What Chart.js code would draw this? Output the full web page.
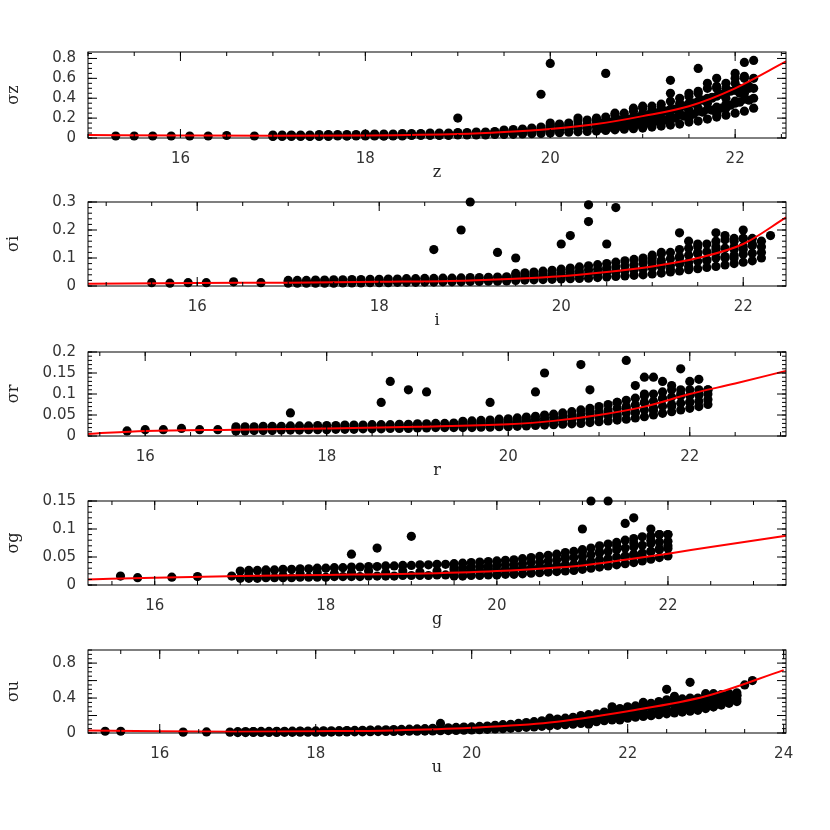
<!DOCTYPE html>
<html><head><meta charset="utf-8">
<script src="https://cdn.jsdelivr.net/npm/chart.js@4"></script>
<style>body{margin:0;background:#fff;width:830px;height:830px;position:relative;overflow:hidden}
.p{position:absolute;left:0;width:830px}</style></head>
<body>
<script>
// ---- data: individual / outlying points ----
const zX=[15.3,15.5,15.7,15.9,16.1,16.3,16.5,16.8,17.0,17.2,17.4,17.6,17.8,18.0,18.1,18.2,18.3,18.4,18.5,18.6,18.7,18.8,18.9,19.0,19.1,19.2,19.3,19.4,19.5,19.6,19.7,19.8,19.9,20.0,20.1,20.2,20.3,20.4,20.5,20.6,20.7,20.8,20.9,21.0,21.1,21.2,21.3,21.4,21.5,21.6,21.7,21.8,21.9,22.0,22.1,22.15,20.0,20.3,20.5,20.7,20.9,21.0,21.1,21.2,21.3,21.4,21.5,21.6,21.7,21.8,21.9,22.0,22.1,21.0,21.5,21.8,22.0,19.5,20.0,20.6,19.9,20.0,21.6,22.2,22.1,21.3,19.0,21.9,22.05,21.75];
const zY=[0.02,0.02,0.02,0.02,0.02,0.02,0.025,0.02,0.02,0.025,0.02,0.03,0.02,0.03,0.03,0.02,0.025,0.03,0.03,0.04,0.035,0.03,0.04,0.05,0.045,0.04,0.05,0.06,0.05,0.05,0.06,0.08,0.07,0.07,0.09,0.12,0.1,0.1,0.12,0.16,0.13,0.14,0.16,0.25,0.18,0.3,0.22,0.35,0.28,0.45,0.35,0.5,0.4,0.55,0.6,0.5,0.12,0.2,0.18,0.25,0.3,0.12,0.28,0.2,0.45,0.25,0.2,0.3,0.55,0.25,0.5,0.35,0.45,0.32,0.42,0.6,0.65,0.07,0.15,0.65,0.44,0.75,0.7,0.78,0.76,0.58,0.2,0.3,0.45,0.4];
const zCurveX=[15,16,17,18,19,19.5,20,20.5,21,21.5,22,22.55];
const zCurveY=[0.03,0.025,0.022,0.025,0.04,0.06,0.09,0.14,0.22,0.32,0.5,0.77];

const iX=[15.5,15.7,15.9,16.1,16.4,16.7,17.0,17.2,17.5,17.8,18.0,18.2,18.4,18.6,18.8,19.0,19.2,19.4,19.6,19.8,20.0,20.2,20.4,20.6,20.8,21.0,21.1,21.2,21.3,21.4,21.5,21.6,21.7,21.8,21.9,22.0,22.1,20.5,20.9,21.1,21.3,21.5,21.7,21.9,22.0,21.0,21.4,21.8,19.0,18.9,20.3,20.3,20.6,20.1,20.0,18.6,19.3,21.3,22.0,22.3,20.5,19.5,21.7,21.9];
const iY=[0.012,0.01,0.012,0.012,0.015,0.012,0.015,0.013,0.015,0.015,0.018,0.016,0.02,0.02,0.025,0.022,0.025,0.03,0.028,0.035,0.035,0.04,0.045,0.05,0.06,0.07,0.08,0.06,0.1,0.07,0.12,0.09,0.14,0.1,0.16,0.13,0.15,0.06,0.09,0.12,0.08,0.15,0.12,0.1,0.17,0.1,0.16,0.18,0.3,0.2,0.29,0.23,0.28,0.18,0.15,0.13,0.12,0.19,0.2,0.18,0.15,0.1,0.19,0.13];
const iCurveX=[14.8,16,17,18,19,20,20.5,21,21.5,22,22.47];
const iCurveY=[0.008,0.011,0.012,0.015,0.02,0.035,0.05,0.07,0.1,0.15,0.245];

const rX=[15.8,16.0,16.2,16.4,16.6,16.8,17.0,17.2,17.4,17.6,17.8,18.0,18.2,18.4,18.6,18.8,19.0,19.2,19.4,19.6,19.8,20.0,20.2,20.4,20.6,20.8,21.0,21.1,21.2,21.3,21.4,21.5,21.6,21.7,21.8,21.9,22.0,22.1,22.2,20.9,21.2,21.5,21.8,22.0,21.4,21.7,18.7,18.9,19.1,17.6,20.4,20.8,21.3,20.3,21.5,21.9,20.9,19.8,18.6,22.1,21.6];
const rY=[0.012,0.015,0.015,0.018,0.015,0.015,0.018,0.017,0.02,0.018,0.02,0.02,0.022,0.022,0.025,0.022,0.025,0.025,0.028,0.025,0.03,0.03,0.035,0.035,0.04,0.045,0.05,0.055,0.045,0.065,0.055,0.08,0.06,0.09,0.07,0.1,0.08,0.1,0.11,0.06,0.08,0.1,0.12,0.13,0.12,0.13,0.13,0.11,0.105,0.055,0.15,0.17,0.18,0.105,0.14,0.16,0.11,0.08,0.08,0.135,0.14];
const rCurveX=[15.37,16,17,18,19,20,20.5,21,21.5,22,22.5,23.06];
const rCurveY=[0.005,0.012,0.015,0.018,0.022,0.028,0.036,0.05,0.07,0.1,0.125,0.155];

const gX=[15.6,15.8,16.2,16.5,16.9,17.1,17.3,17.5,17.7,17.9,18.1,18.3,18.5,18.7,18.9,19.1,19.3,19.5,19.7,19.9,20.1,20.3,20.5,20.7,20.9,21.1,21.3,21.5,21.6,21.7,21.8,21.9,22.0,21.2,21.4,21.6,21.8,22.0,20.8,21.0,21.1,21.3,21.6,19.0,21.0,18.6,18.3,21.5,21.9,21.8];
const gY=[0.016,0.013,0.014,0.015,0.016,0.018,0.02,0.017,0.02,0.022,0.02,0.022,0.025,0.022,0.025,0.023,0.025,0.028,0.025,0.03,0.028,0.03,0.032,0.035,0.035,0.04,0.045,0.05,0.055,0.05,0.06,0.065,0.07,0.06,0.07,0.075,0.08,0.09,0.05,0.06,0.15,0.15,0.12,0.087,0.1,0.066,0.055,0.11,0.09,0.1];
const gCurveX=[15.22,16,17,18,19,20,21,21.5,22,22.5,23.38];
const gCurveY=[0.01,0.013,0.016,0.018,0.02,0.025,0.035,0.045,0.056,0.068,0.088];

const uX=[15.3,15.5,16.3,16.6,16.9,17.2,17.5,17.8,18.1,18.4,18.7,19.0,19.3,19.6,19.9,20.2,20.5,20.8,21.0,21.2,21.4,21.6,21.8,22.0,22.2,22.4,22.6,22.8,23.0,23.2,21.5,21.9,22.3,22.7,23.1,21.8,22.2,22.6,23.0,22.8,22.5,23.6,23.5,23.1,19.6,21.0,23.4,22.9];
const uY=[0.02,0.02,0.01,0.012,0.01,0.015,0.015,0.02,0.02,0.025,0.03,0.03,0.04,0.05,0.06,0.07,0.09,0.11,0.13,0.15,0.17,0.2,0.22,0.25,0.28,0.3,0.33,0.36,0.38,0.4,0.1,0.15,0.2,0.25,0.3,0.3,0.35,0.42,0.45,0.58,0.5,0.6,0.55,0.45,0.11,0.17,0.43,0.3];
const uCurveX=[15.08,16,17,18,19,20,21,22,23,24];
const uCurveY=[0.03,0.02,0.015,0.02,0.03,0.06,0.12,0.25,0.42,0.72];

// ---- data: dense band rows (magnitudes, then sigma rows bottom to top) ----
const bandX1=[17.0,17.1,17.2,17.3,17.4,17.5,17.6,17.7,17.8,17.9,18.0,18.1,18.2,18.3,18.4,18.5,18.6,18.7,18.8,18.9,19.0,19.1,19.2,19.3,19.4];
const bandX2=[19.5,19.6,19.7,19.8,19.9,20.0,20.1,20.2,20.3,20.4,20.5,20.6,20.7,20.8,20.9,21.0,21.1,21.2,21.3,21.4,21.5,21.6,21.7,21.8,21.9,22.0,22.1,22.2];
const gBandX2=[19.5,19.6,19.7,19.8,19.9,20.0,20.1,20.2,20.3,20.4,20.5,20.6,20.7,20.8,20.9,21.0,21.1,21.2,21.3,21.4,21.5,21.6,21.7,21.8,21.9,22.0];
const uBandX1=[17.0,17.1,17.2,17.3,17.4,17.5,17.6,17.7,17.8,17.9,18.0,18.1,18.2,18.3,18.4,18.5,18.6,18.7,18.8,18.9,19.0,19.1,19.2,19.3,19.4,19.5,19.6,19.7,19.8,19.9];
const uBandX2=[20.0,20.1,20.2,20.3,20.4,20.5,20.6,20.7,20.8,20.9,21.0,21.1,21.2,21.3,21.4,21.5,21.6,21.7,21.8,21.9,22.0,22.1,22.2,22.3,22.4,22.5,22.6,22.7,22.8,22.9,23.0,23.1,23.2,23.3,23.4];
// extra band fill between rows, at half steps
const zFillX=[20.55,20.65,20.75,20.85,20.95,21.05,21.15,21.25,21.35,21.45,21.55,21.65,21.75,21.85,21.95,22.05,22.15];
const zFillY1=[.1,.11,.12,.13,.14,.15,.17,.18,.2,.22,.24,.26,.28,.3,.33,.36,.38];
const zFillY2=[.15,.16,.18,.19,.21,.23,.25,.27,.29,.32,.35,.38,.41,.44,.47,.5,.52];

const zLo1=[.015,.015,.015,.015,.015,.015,.015,.02,.02,.02,.02,.02,.02,.02,.02,.025,.025,.025,.025,.025,.03,.03,.03,.03,.035];
const zHi1=[.03,.03,.03,.03,.03,.035,.035,.035,.035,.035,.04,.04,.04,.04,.045,.045,.045,.05,.05,.05,.055,.055,.06,.06,.065];
const zLo2=[.035,.037,.04,.043,.046,.05,.054,.058,.062,.066,.07,.076,.082,.088,.094,.1,.11,.12,.13,.14,.16,.17,.19,.21,.23,.25,.27,.3];
const zMa2=[.05,.053,.057,.062,.067,.077,.083,.089,.098,.104,.113,.12,.13,.14,.15,.17,.18,.19,.21,.23,.26,.27,.29,.31,.34,.37,.39,.4];
const zMb2=[.065,.07,.075,.08,.09,.1,.11,.12,.13,.14,.16,.17,.18,.2,.21,.23,.25,.27,.29,.32,.35,.37,.4,.42,.45,.48,.5,.5];
const zHi2=[.08,.085,.09,.1,.11,.13,.14,.15,.17,.18,.2,.21,.23,.25,.27,.3,.32,.34,.37,.4,.45,.47,.5,.52,.55,.6,.62,.6];

const iLo1=[.01,.01,.01,.01,.01,.01,.011,.011,.011,.012,.012,.012,.013,.013,.013,.014,.014,.015,.015,.015,.016,.016,.017,.017,.018];
const iHi1=[.02,.02,.02,.021,.021,.022,.022,.023,.023,.024,.024,.025,.025,.026,.026,.027,.027,.028,.028,.029,.03,.03,.031,.032,.033];
const iLo2=[.02,.021,.022,.023,.024,.025,.026,.027,.028,.03,.032,.034,.036,.038,.04,.043,.046,.05,.054,.058,.062,.066,.07,.075,.08,.085,.09,.1];
const iMa2=[.028,.03,.031,.033,.035,.037,.039,.041,.043,.045,.048,.051,.054,.057,.06,.064,.069,.073,.079,.084,.088,.094,.1,.105,.11,.113,.117,.12];
const iMb2=[.037,.039,.041,.043,.045,.048,.051,.054,.057,.06,.064,.068,.072,.076,.08,.086,.092,.097,.105,.11,.115,.122,.13,.135,.14,.142,.144,.14];
const iHi2=[.045,.047,.05,.053,.056,.06,.064,.068,.072,.076,.08,.085,.09,.095,.1,.11,.115,.12,.13,.135,.14,.15,.16,.165,.17,.17,.17,.16];

const rLo1=[.012,.012,.013,.013,.013,.014,.014,.014,.015,.015,.015,.016,.016,.016,.017,.017,.017,.018,.018,.018,.019,.019,.02,.02,.02];
const rHi1=[.022,.022,.022,.023,.023,.023,.024,.024,.024,.025,.025,.025,.026,.026,.026,.027,.027,.027,.028,.028,.029,.029,.03,.03,.031];
const rLo2=[.02,.02,.021,.021,.022,.022,.023,.024,.025,.026,.027,.028,.029,.03,.032,.034,.036,.038,.04,.043,.046,.05,.054,.058,.062,.066,.07,.075];
const rMa2=[.025,.025,.026,.027,.028,.028,.03,.031,.032,.034,.035,.037,.039,.041,.043,.046,.049,.052,.055,.058,.062,.067,.071,.075,.078,.081,.083,.087];
const rMb2=[.03,.031,.032,.032,.034,.035,.036,.038,.04,.042,.044,.046,.048,.051,.054,.058,.062,.066,.07,.074,.079,.083,.088,.093,.095,.096,.097,.1];
const rHi2=[.035,.036,.037,.038,.04,.041,.043,.045,.047,.05,.052,.055,.058,.062,.066,.07,.075,.08,.085,.09,.095,.1,.105,.11,.11,.11,.11,.11];

const gLo1=[.012,.012,.012,.013,.013,.013,.013,.014,.014,.014,.014,.015,.015,.015,.015,.016,.016,.016,.016,.017,.017,.017,.017,.018,.018];
const gHi1=[.025,.026,.026,.027,.027,.028,.028,.029,.029,.03,.03,.031,.031,.032,.032,.033,.033,.034,.034,.035,.035,.036,.036,.037,.037];
const gLo2=[.016,.016,.017,.017,.018,.018,.019,.019,.02,.021,.022,.023,.024,.025,.026,.028,.03,.032,.034,.036,.038,.04,.043,.046,.049,.052];
const gMa2=[.023,.024,.025,.025,.026,.026,.027,.028,.029,.03,.032,.033,.034,.036,.037,.04,.042,.045,.047,.05,.052,.054,.057,.06,.063,.065];
const gMb2=[.031,.031,.032,.033,.034,.035,.036,.036,.038,.04,.041,.043,.045,.047,.049,.051,.054,.057,.06,.063,.066,.068,.071,.074,.077,.078];
const gHi2=[.038,.039,.04,.041,.042,.043,.044,.045,.047,.049,.051,.053,.055,.058,.06,.063,.066,.07,.073,.076,.08,.083,.086,.088,.09,.09];

const uLo1=[.005,.005,.006,.006,.007,.007,.008,.008,.009,.009,.01,.01,.011,.012,.012,.013,.014,.015,.016,.017,.018,.019,.02,.021,.022,.024,.026,.028,.03,.032];
const uHi1=[.015,.016,.017,.018,.018,.019,.02,.021,.022,.023,.024,.025,.026,.027,.028,.03,.031,.033,.035,.037,.039,.041,.044,.047,.05,.053,.056,.06,.064,.068];
const uLo2=[.035,.038,.042,.046,.05,.055,.06,.065,.07,.076,.082,.088,.095,.1,.11,.12,.13,.14,.15,.16,.17,.18,.19,.2,.21,.22,.23,.24,.25,.26,.28,.3,.32,.34,.36];
const uMa2=[.047,.05,.055,.06,.065,.07,.077,.083,.09,.097,.105,.112,.12,.127,.14,.15,.16,.17,.18,.19,.2,.21,.22,.23,.25,.26,.27,.29,.3,.31,.33,.34,.36,.38,.39];
const uMb2=[.058,.063,.068,.074,.08,.085,.093,.1,.11,.118,.127,.136,.145,.153,.17,.18,.19,.2,.22,.24,.25,.26,.28,.29,.3,.32,.33,.34,.35,.36,.38,.39,.4,.42,.43];
const uHi2=[.07,.075,.08,.088,.095,.1,.11,.12,.13,.14,.15,.16,.17,.18,.2,.21,.22,.24,.26,.28,.3,.31,.33,.34,.36,.38,.38,.39,.4,.4,.42,.43,.44,.45,.46];

// ---- tick labels ----
const zXTicks=[16,18,20,22], zYTicks=[0,0.2,0.4,0.6,0.8];
const iXTicks=[16,18,20,22], iYTicks=[0,0.1,0.2,0.3];
const rXTicks=[16,18,20,22], rYTicks=[0,0.05,0.1,0.15,0.2];
const gXTicks=[16,18,20,22], gYTicks=[0,0.05,0.1,0.15];
const uXTicks=[16,18,20,22,24], uYTicks=[0,0.2,0.4,0.6,0.8];

// ---- drawing ----
const frame={id:'frame',afterDraw(c){const a=c.chartArea,x=c.ctx,o=c.options.plugins.frame;
 x.save();x.strokeStyle='#000';x.lineWidth=1;x.strokeRect(a.left,a.top,a.right-a.left,a.bottom-a.top);
 const sx=c.scales.x,sy=c.scales.y;
 const tick=(v,len,ax)=>{if(ax==='x'){const p=sx.getPixelForValue(v);if(p<a.left||p>a.right)return;x.beginPath();x.moveTo(p,a.bottom);x.lineTo(p,a.bottom-len);x.moveTo(p,a.top);x.lineTo(p,a.top+len);x.stroke();}
 else{const p=sy.getPixelForValue(v);if(p<a.top-0.5||p>a.bottom+0.5)return;x.beginPath();x.moveTo(a.left,p);x.lineTo(a.left+len,p);x.moveTo(a.right,p);x.lineTo(a.right-len,p);x.stroke();}};
 for(let v=Math.ceil(sx.min/o.xm)*o.xm;v<=sx.max;v+=o.xm)tick(v,4,'x');
 o.xt.forEach(v=>tick(v,9,'x'));
 for(let v=0;v<=sy.max+1e-9;v+=o.ym)tick(v,4,'y');
 o.yt.forEach(v=>tick(v,9,'y'));
 x.restore();}};
const fmt=v=>String(Number(v.toFixed(3)));
function pts(xs,ys){return xs.map((v,i)=>({x:v,y:ys[i]}));}
function panel(top,h,points,cx,cy,xmin,xmax,ymax,xt,yt,xm,ym,xl,yl){
 const d=document.createElement('div');d.className='p';d.style.top=(top-6)+'px';d.style.height=(h+6+48)+'px';
 const cv=document.createElement('canvas');d.appendChild(cv);document.body.appendChild(d);
 new Chart(cv,{type:'scatter',plugins:[frame],data:{datasets:[
  {data:points,order:2,pointRadius:4.6,pointBackgroundColor:'#000',pointBorderWidth:0},
  {type:'line',order:1,data:pts(cx,cy),borderColor:'#ff0000',borderWidth:2,pointRadius:0,cubicInterpolationMode:'monotone'}]},
 options:{animation:false,responsive:true,maintainAspectRatio:false,clip:false,
  layout:{padding:{top:6,right:44,left:0,bottom:0}},
  plugins:{legend:{display:false},tooltip:{enabled:false},frame:{xt,yt,xm,ym}},
  scales:{
   x:{type:'linear',min:xmin,max:xmax,grid:{display:false},border:{display:false},
    afterBuildTicks:s=>{s.ticks=xt.map(v=>({value:v}))},afterFit:s=>{s.height=48},
    ticks:{color:'#333',font:{family:'DejaVu Sans',size:15},padding:4,callback:v=>String(v)},
    title:{display:true,text:xl,color:'#222',font:{family:'DejaVu Serif',size:16},padding:{top:-2}}},
   y:{type:'linear',min:0,max:ymax,grid:{display:false},border:{display:false},
    afterBuildTicks:s=>{s.ticks=yt.map(v=>({value:v}))},afterFit:s=>{s.width=88},
    ticks:{color:'#333',font:{family:'DejaVu Sans',size:15},padding:4,callback:v=>fmt(v)},
    title:{display:true,text:yl,color:'#222',font:{family:'DejaVu Serif',size:16},padding:{bottom:2}}}}}});
}
panel(45,93,[...pts(zX,zY),...pts(bandX1,zLo1),...pts(bandX1,zHi1),...pts(bandX2,zLo2),...pts(bandX2,zMa2),...pts(bandX2,zMb2),...pts(bandX2,zHi2),...pts(zFillX,zFillY1),...pts(zFillX,zFillY2)],
 zCurveX,zCurveY,15,22.55,0.865,zXTicks,zYTicks,0.5,0.05,'z','σz');
panel(195,91,[...pts(iX,iY),...pts(bandX1,iLo1),...pts(bandX1,iHi1),...pts(bandX2,iLo2),...pts(bandX2,iMa2),...pts(bandX2,iMb2),...pts(bandX2,iHi2)],
 iCurveX,iCurveY,14.8,22.47,0.3,iXTicks,iYTicks,0.5,0.02,'i','σi');
panel(345,91,[...pts(rX,rY),...pts(bandX1,rLo1),...pts(bandX1,rHi1),...pts(bandX2,rLo2),...pts(bandX2,rMa2),...pts(bandX2,rMb2),...pts(bandX2,rHi2)],
 rCurveX,rCurveY,15.37,23.06,0.2,rXTicks,rYTicks,0.5,0.01,'r','σr');
panel(494,91,[...pts(gX,gY),...pts(bandX1,gLo1),...pts(bandX1,gHi1),...pts(gBandX2,gLo2),...pts(gBandX2,gMa2),...pts(gBandX2,gMb2),...pts(gBandX2,gHi2)],
 gCurveX,gCurveY,15.22,23.38,0.15,gXTicks,gYTicks,0.5,0.01,'g','σg');
panel(643,90,[...pts(uX,uY),...pts(uBandX1,uLo1),...pts(uBandX1,uHi1),...pts(uBandX2,uLo2),...pts(uBandX2,uMa2),...pts(uBandX2,uMb2),...pts(uBandX2,uHi2)],
 uCurveX,uCurveY,15.08,24.03,0.95,uXTicks,uYTicks,0.5,0.05,'u','σu');
</script>
</body></html>
